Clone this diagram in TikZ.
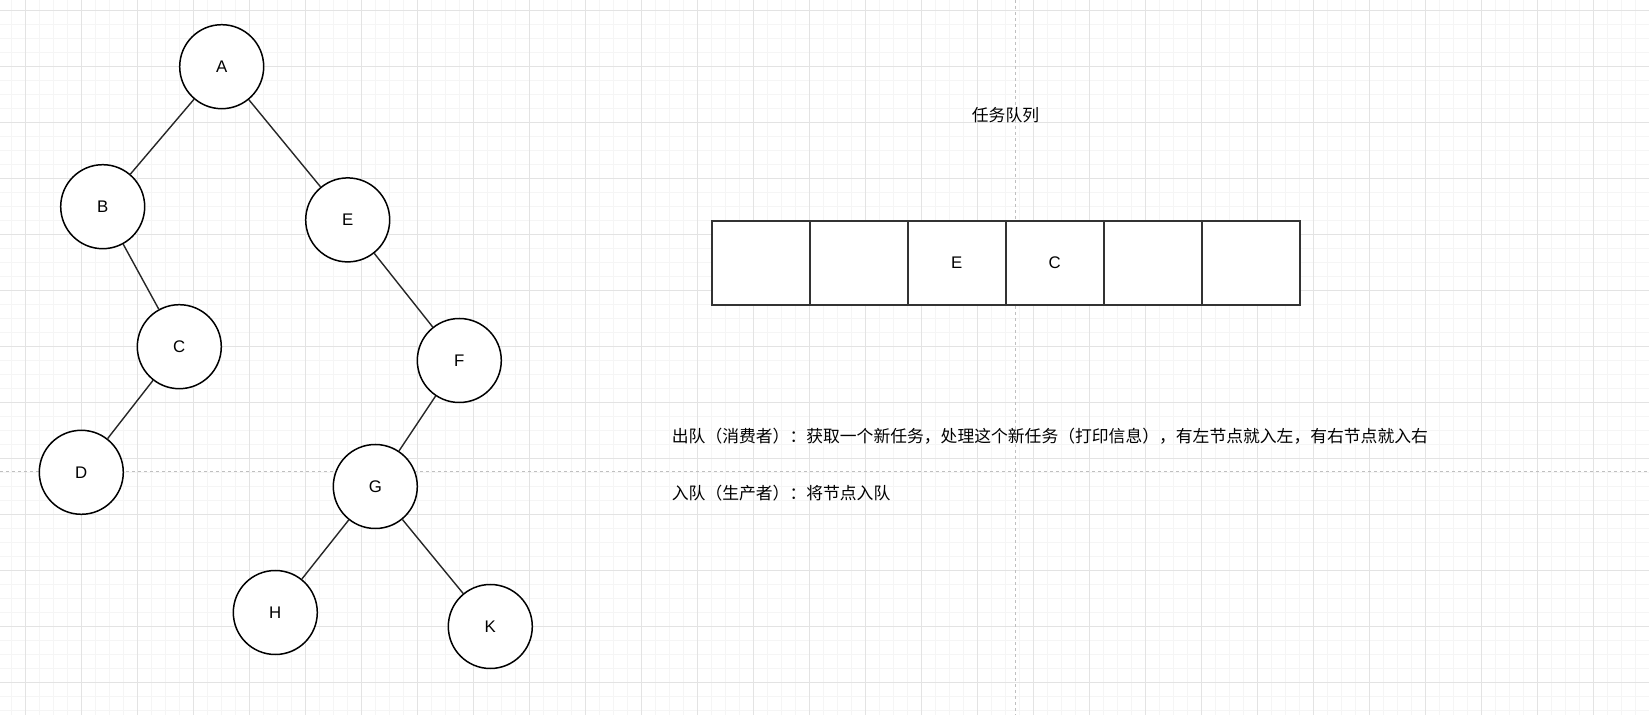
\documentclass[tikz,border=0pt]{standalone}
\usepackage{fontspec}
\setmainfont{Liberation Sans}
\newfontfamily\cjk{Noto Sans CJK SC}
\usetikzlibrary{positioning}

\tikzset{
  treenode/.style={circle,draw,line width=0.75pt,minimum size=42pt,inner sep=0pt,fill=white,font=\fontsize{8.4}{10}\selectfont},
  slot/.style={rectangle,draw=black!80,line width=0.85pt,minimum width=49pt,minimum height=42pt,inner sep=0pt,fill=white,font=\fontsize{8.4}{10}\selectfont},
  branch/.style={draw=black!85,line width=0.7pt},
  note/.style={font=\cjk\fontsize{8.4}{10}\selectfont,inner sep=0pt},
  minorline/.style={draw=black!4,line width=0.5pt},
  majorline/.style={draw=black!11,line width=0.5pt},
  pagebreak/.style={draw=black!25,line width=0.5pt,dash pattern=on 1.5pt off 1.5pt}
}

\begin{document}
\begin{tikzpicture}[x=0.5pt,y=-0.5pt,on grid]
 \useasboundingbox[fill=white] (0,0) rectangle (1649,715);
 % canvas grid
 \foreach \gx in {11.5,25.5,...,1649} \draw[minorline] (\gx,0) -- (\gx,715);
 \foreach \gy in {10.3,24.3,...,715} \draw[minorline] (0,\gy) -- (1649,\gy);
 \foreach \gx in {25.5,81.5,...,1649} \draw[majorline] (\gx,0) -- (\gx,715);
 \foreach \gy in {10.3,66.3,...,715} \draw[majorline] (0,\gy) -- (1649,\gy);
 \draw[pagebreak] (1015.5,0) -- (1015.5,715);
 \draw[pagebreak] (0,471.5) -- (1649,471.5);

 % tree
 \node[treenode] (A) at (221.7,66.7) {A};
 \node[treenode] (B) [below=70pt of A,xshift=-59.5pt] {B};
 \node[treenode] (E) [below=76.6pt of A,xshift=63pt] {E};
 \node[treenode] (C) [below=70pt of B,xshift=38.3pt] {C};
 \node[treenode] (D) [below=62.8pt of C,xshift=-49pt] {D};
 \node[treenode] (F) [below=70.3pt of E,xshift=55.8pt] {F};
 \node[treenode] (G) [below=63pt of F,xshift=-42pt] {G};
 \node[treenode] (H) [below=63pt of G,xshift=-50pt] {H};
 \node[treenode] (K) [below=70pt of G,xshift=57.5pt] {K};

\path[branch] (A) edge (B);
\path[branch] (A) edge (E);
\path[branch] (B) edge (C);
\path[branch] (C) edge (D);
\path[branch] (E) edge (F);
\path[branch] (F) edge (G);
\path[branch] (G) edge (H);
\path[branch] (G) edge (K);

 % queue
 \node[slot] (slot1) at (760.7,262.7) {};
 \node[slot] (slot2) [right=49pt of slot1] {};
 \node[slot] (slot3) [right=49pt of slot2] {E};
 \node[slot] (slot4) [right=49pt of slot3] {C};
 \node[slot] (slot5) [right=49pt of slot4] {};
 \node[slot] (slot6) [right=49pt of slot5] {};
 \node[note] (queuetitle) at (1005.5,115) {任务队列};

 \node[note,anchor=west] (dequeue) at (671.5,436.7) {出队（消费者）：获取一个新任务，处理这个新任务（打印信息），有左节点就入左，有右节点就入右};
 \node[note,anchor=west] (enqueue) at (671.5,493.3) {入队（生产者）：将节点入队};
\end{tikzpicture}
\end{document}
